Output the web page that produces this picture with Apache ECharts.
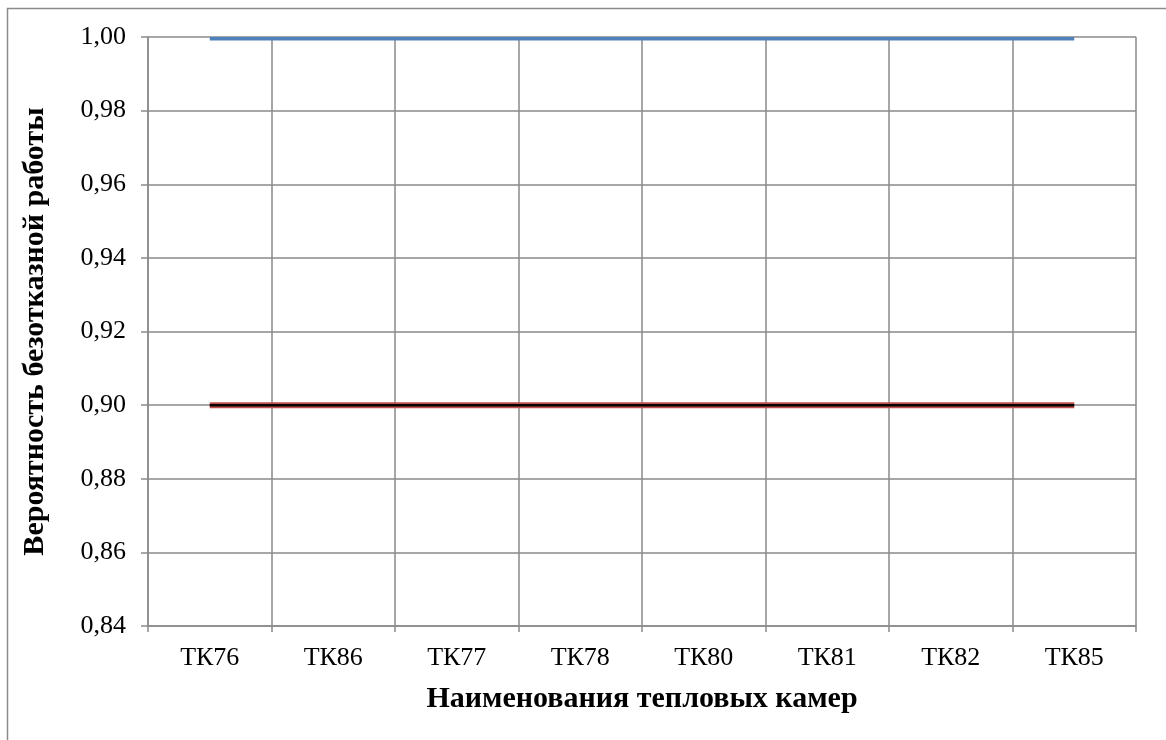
<!DOCTYPE html>
<html>
<head>
<meta charset="utf-8">
<script src="https://cdn.jsdelivr.net/npm/echarts@6/dist/echarts.min.js"></script>
<style>
html,body{margin:0;padding:0;background:#fff;}
#chart{width:1166px;height:740px;}
</style>
</head>
<body>
<div id="chart"></div>
<script>
var categories = ['ТК76','ТК86','ТК77','ТК78','ТК80','ТК81','ТК82','ТК85'];
var reliability = [0.9995,0.9995,0.9995,0.9995,0.9995,0.9995,0.9995,0.9995];
var normative = [0.90,0.90,0.90,0.90,0.90,0.90,0.90,0.90];
var yTicks = {min:0.84, max:1.00, interval:0.02};

var chart = echarts.init(document.getElementById('chart'), null, {renderer:'canvas'});
var font = '"Liberation Serif","Times New Roman",serif';
var gridColor = '#8a8a8a';
chart.setOption({
  animation:false,
  backgroundColor:'#fff',
  textStyle:{fontFamily:font},
  graphic:[{
    type:'rect', silent:true,
    shape:{x:7.5,y:8.5,width:1300,height:900},
    style:{fill:'none',stroke:'#8a8a8a',lineWidth:1.5}
  }],
  grid:{left:148,right:30,top:37,bottom:114},
  xAxis:{
    type:'category', data:categories, boundaryGap:true,
    name:'Наименования тепловых камер', nameLocation:'middle', nameGap:58,
    nameTextStyle:{fontFamily:font,fontSize:30,fontWeight:'bold',color:'#000'},
    axisLine:{lineStyle:{color:gridColor,width:1.5}},
    axisTick:{show:true,length:6,lineStyle:{color:gridColor,width:1.5}},
    axisLabel:{fontFamily:font,fontSize:26,color:'#000',margin:19},
    splitLine:{show:true,lineStyle:{color:gridColor,width:1.5}}
  },
  yAxis:{
    type:'value', min:yTicks.min, max:yTicks.max, interval:yTicks.interval,
    name:'Вероятность безотказной работы', nameLocation:'middle', nameGap:98,
    nameTextStyle:{fontFamily:font,fontSize:30,fontWeight:'bold',color:'#000'},
    axisLine:{show:true,lineStyle:{color:gridColor,width:1.5}},
    axisTick:{show:true,length:7,lineStyle:{color:gridColor,width:1.5}},
    axisLabel:{fontFamily:font,fontSize:26,color:'#000',margin:22,
      formatter:function(v){return v.toFixed(2).replace('.',',');}},
    splitLine:{show:true,lineStyle:{color:gridColor,width:1.5}}
  },
  series:[
    {type:'line',data:reliability,symbol:'none',lineStyle:{color:'#4f81bd',width:3.5},z:5},
    {type:'line',data:normative,symbol:'none',lineStyle:{color:'#c0504d',width:6},z:5},
    {type:'line',data:normative,symbol:'none',lineStyle:{color:'#000',width:2.5},z:6}
  ]
});
</script>
</body>
</html>
